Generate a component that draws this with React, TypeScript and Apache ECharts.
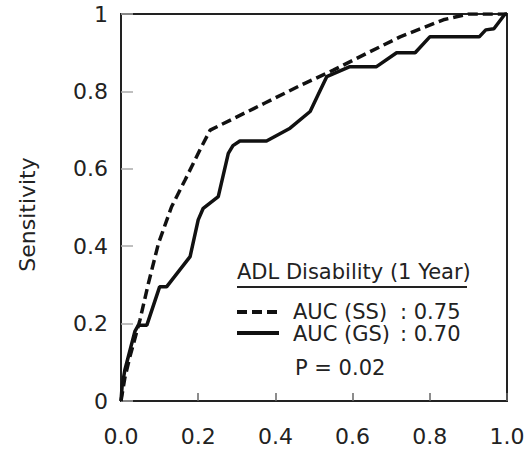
import React, { useEffect, useRef } from "react";
import * as echarts from "echarts";

// False positive rate (1 - specificity) and sensitivity
const ssFpr = [0, 0.01, 0.023, 0.049, 0.071, 0.097, 0.131, 0.166, 0.205, 0.231, 0.373, 0.464, 0.55, 0.636, 0.723, 0.835, 0.9, 1.0];
const ssTpr = [0, 0.06, 0.114, 0.209, 0.304, 0.407, 0.502, 0.571, 0.65, 0.7, 0.77, 0.815, 0.855, 0.898, 0.941, 0.985, 1.0, 1.0];

const gsFpr = [0, 0.003, 0.01, 0.036, 0.045, 0.067, 0.1, 0.118, 0.179, 0.2, 0.213, 0.252, 0.278, 0.29, 0.308, 0.377, 0.438, 0.49, 0.51, 0.533, 0.593, 0.662, 0.714, 0.762, 0.8, 0.928, 0.945, 0.966, 0.995, 1.0];
const gsTpr = [0, 0.04, 0.08, 0.18, 0.196, 0.196, 0.295, 0.295, 0.373, 0.468, 0.498, 0.528, 0.64, 0.66, 0.672, 0.672, 0.705, 0.748, 0.79, 0.838, 0.864, 0.864, 0.9, 0.9, 0.941, 0.941, 0.959, 0.962, 1.0, 1.0];

const yTicks = ["0", "0.2", "0.4", "0.6", "0.8", "1"];
const xTicks = ["0.0", "0.2", "0.4", "0.6", "0.8", "1.0"];

const legendTitle = "ADL Disability (1 Year)";
const legendNames = ["AUC (SS)", "AUC (GS)"];
const legendValues = [": 0.75", ": 0.70"];
const pText = "P = 0.02";

const FONT = "DejaVu Sans";
const INK = "#111";

export default function App() {
  const ref = useRef<HTMLDivElement>(null);
  useEffect(() => {
    if (!ref.current) return;
    const chart = echarts.init(ref.current, undefined, { renderer: "svg" });
    const ss = ssFpr.map((x, i) => [x, ssTpr[i]]);
    const gs = gsFpr.map((x, i) => [x, gsTpr[i]]);
    chart.setOption({
      animation: false,
      backgroundColor: "#fff",
      grid: {
        left: 121,
        right: 23,
        top: 14,
        bottom: 50,
        show: true,
        borderColor: "#222",
        borderWidth: 2,
      },
      xAxis: {
        type: "value",
        min: 0,
        max: 1,
        interval: 0.2,
        axisLine: { show: true, lineStyle: { color: "#222", width: 2 } },
        axisTick: { show: true, inside: true, length: 8, lineStyle: { color: "#666", width: 1.5 } },
        splitLine: { show: false },
        axisLabel: {
          margin: 24,
          fontFamily: FONT,
          fontSize: 22,
          color: "#222",
          formatter: (v: number) => xTicks[Math.round(v * 5)] ?? "",
        },
      },
      yAxis: {
        type: "value",
        min: 0,
        max: 1,
        interval: 0.2,
        name: "Sensitivity",
        nameLocation: "middle",
        nameGap: 83,
        nameRotate: 90,
        nameTextStyle: { fontFamily: FONT, fontSize: 22, color: "#222", padding: [0, 14, 0, 0] },
        axisLine: { show: true, lineStyle: { color: "#222", width: 2 } },
        axisTick: { show: true, inside: true, length: 12, lineStyle: { color: "#aaa", width: 1.5 } },
        splitLine: { show: false },
        axisLabel: {
          margin: 13,
          fontFamily: FONT,
          fontSize: 22,
          color: "#222",
          formatter: (v: number) => yTicks[Math.round(v * 5)] ?? "",
        },
      },
      series: [
        {
          name: legendNames[0],
          type: "line",
          data: ss,
          showSymbol: false,
          lineStyle: { color: INK, width: 3.5, type: [10, 5] },
          z: 3,
        },
        {
          name: legendNames[1],
          type: "line",
          data: gs,
          showSymbol: false,
          lineStyle: { color: INK, width: 3.5 },
          z: 4,
        },
      ],
      graphic: [
        {
          type: "text",
          x: 237,
          y: 272,
          style: { text: legendTitle, font: `21px "${FONT}"`, fill: "#222", verticalAlign: "middle", align: "left" },
        },
        { type: "line", shape: { x1: 237, y1: 287, x2: 467, y2: 287 }, style: { stroke: "#222", lineWidth: 2 } },
        { type: "line", shape: { x1: 237, y1: 312, x2: 279, y2: 312 }, style: { stroke: INK, lineWidth: 4, lineDash: [10, 5] } },
        {
          type: "text",
          x: 293,
          y: 312,
          style: { text: legendNames[0], font: `21px "${FONT}"`, fill: "#222", verticalAlign: "middle" },
        },
        {
          type: "text",
          x: 400,
          y: 312,
          style: { text: legendValues[0], font: `21px "${FONT}"`, fill: "#222", verticalAlign: "middle" },
        },
        { type: "line", shape: { x1: 237, y1: 333, x2: 279, y2: 333 }, style: { stroke: INK, lineWidth: 4 } },
        {
          type: "text",
          x: 293,
          y: 334,
          style: { text: legendNames[1], font: `21px "${FONT}"`, fill: "#222", verticalAlign: "middle" },
        },
        {
          type: "text",
          x: 400,
          y: 334,
          style: { text: legendValues[1], font: `21px "${FONT}"`, fill: "#222", verticalAlign: "middle" },
        },
        {
          type: "text",
          x: 295,
          y: 368,
          style: { text: pText, font: `21px "${FONT}"`, fill: "#222", verticalAlign: "middle" },
        },
      ],
    });
    return () => chart.dispose();
  }, []);
  return <div ref={ref} style={{ position: "fixed", left: 0, top: 0, width: 530, height: 451 }} />;
}
